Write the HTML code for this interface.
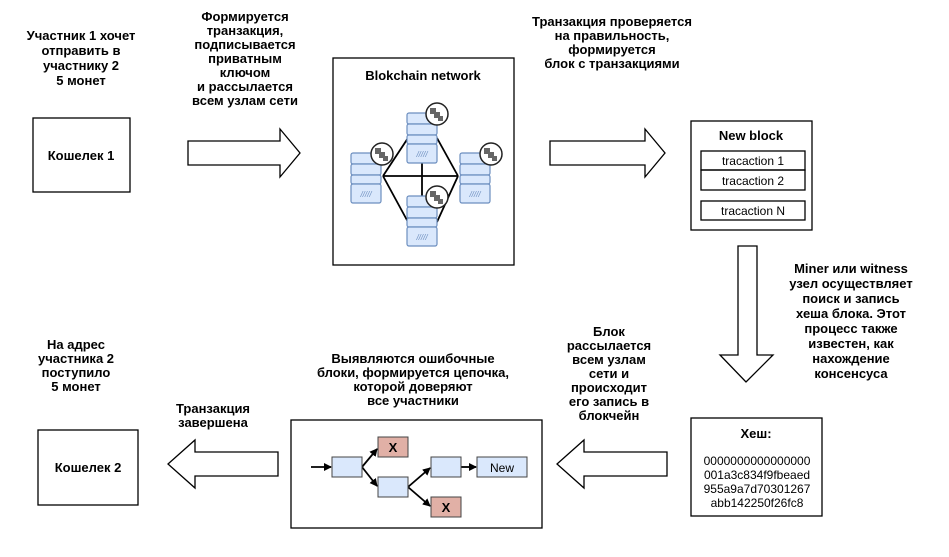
<!DOCTYPE html>
<html><head><meta charset="utf-8"><style>
body{margin:0;background:#fff}
svg{display:block}
text{font-family:"Liberation Sans",sans-serif;font-size:13px;fill:#000}
.b{font-weight:bold}
</style></head><body>
<svg width="949" height="557" viewBox="0 0 949 557" xmlns="http://www.w3.org/2000/svg">
<rect width="949" height="557" fill="#fff"/>
<defs>
<g id="srv">
<rect x="0" y="0" width="30" height="11" rx="2" fill="#dae8fc" stroke="#6c8ebf" stroke-width="1.2"/>
<rect x="0" y="11" width="30" height="11" rx="2" fill="#dae8fc" stroke="#6c8ebf" stroke-width="1.2"/>
<rect x="0" y="22" width="30" height="9" rx="2" fill="#dae8fc" stroke="#6c8ebf" stroke-width="1.2"/>
<rect x="0" y="31" width="30" height="19" rx="2" fill="#dae8fc" stroke="#6c8ebf" stroke-width="1.2"/>
<text x="15" y="44" text-anchor="middle" style="font-size:8px;fill:#6c8ebf;font-style:italic">/////</text>
</g>
<g id="coin">
<circle cx="0" cy="0" r="11" fill="#fff" stroke="#222" stroke-width="1.5"/>
<rect x="-7" y="-6" width="6" height="6" fill="#666"/><rect x="-3" y="-2" width="6" height="6" fill="#666"/><rect x="1" y="2" width="5" height="5" fill="#666"/>
</g>
<marker id="ah" markerWidth="8" markerHeight="8" refX="7" refY="4" orient="auto" markerUnits="userSpaceOnUse"><path d="M0,0 L8,4 L0,8 Z" fill="#000"/></marker>
</defs>

<g stroke="#000" stroke-width="1.3" fill="none">
<rect x="33" y="118" width="97" height="74"/>
<rect x="333" y="58" width="181" height="207"/>
<rect x="691" y="121" width="121" height="109"/>
<rect x="691" y="418" width="131" height="98"/>
<rect x="291" y="420" width="251" height="108"/>
<rect x="38" y="430" width="100" height="75"/>
<path d="M188,141 L280,141 L280,129 L300,153 L280,177 L280,165 L188,165 Z"/>
<path d="M550,141 L645,141 L645,129 L665,153 L645,177 L645,165 L550,165 Z"/>
<path d="M738,246 L757,246 L757,355 L773,355 L746,382 L720,355 L738,355 Z"/>
<path d="M667,452 L584,452 L584,440 L557,464 L584,488 L584,476 L667,476 Z"/>
<path d="M278,452 L195,452 L195,440 L168,464 L195,488 L195,476 L278,476 Z"/>
</g>

<text x="81" y="160" text-anchor="middle" class="b">Кошелек 1</text>
<text x="88" y="472" text-anchor="middle" class="b">Кошелек 2</text>
<text x="423" y="80" text-anchor="middle" class="b">Blokchain network</text>
<text x="751" y="140" text-anchor="middle" class="b">New block</text>
<g stroke="#000" stroke-width="1.3" fill="none">
<rect x="701" y="151" width="104" height="19"/><rect x="701" y="170" width="104" height="20"/><rect x="701" y="201" width="104" height="19"/>
</g>
<text x="753" y="165" text-anchor="middle" style="font-size:12px">tracaction 1</text>
<text x="753" y="185" text-anchor="middle" style="font-size:12px">tracaction 2</text>
<text x="753" y="215" text-anchor="middle" style="font-size:12px">tracaction N</text>

<g stroke="#000" stroke-width="1.8">
<line x1="383" y1="176" x2="408" y2="138"/><line x1="383" y1="176" x2="408" y2="222"/>
<line x1="458" y1="176" x2="437" y2="138"/><line x1="458" y1="176" x2="437" y2="222"/>
<line x1="383" y1="176" x2="458" y2="176"/><line x1="422" y1="160" x2="422" y2="197"/>
</g>
<use href="#srv" x="407" y="113"/>
<use href="#srv" x="351" y="153"/>
<use href="#srv" x="460" y="153"/>
<use href="#srv" x="407" y="196"/>
<use href="#coin" x="437" y="114"/>
<use href="#coin" x="382" y="154"/>
<use href="#coin" x="491" y="154"/>
<use href="#coin" x="437" y="197"/>

<g stroke="#000" stroke-width="1.8" fill="none">
<line x1="311" y1="467" x2="331" y2="467" marker-end="url(#ah)"/>
<line x1="362" y1="467" x2="377" y2="449" marker-end="url(#ah)"/>
<line x1="362" y1="467" x2="377" y2="486" marker-end="url(#ah)"/>
<line x1="408" y1="487" x2="430" y2="468" marker-end="url(#ah)"/>
<line x1="408" y1="487" x2="430" y2="506" marker-end="url(#ah)"/>
<line x1="461" y1="467" x2="476" y2="467" marker-end="url(#ah)"/>
</g>
<g stroke="#444" stroke-width="1">
<rect x="332" y="457" width="30" height="20" fill="#dae8fc"/>
<rect x="378" y="477" width="30" height="20" fill="#dae8fc"/>
<rect x="431" y="457" width="30" height="20" fill="#dae8fc"/>
<rect x="477" y="457" width="50" height="20" fill="#dae8fc"/>
<rect x="378" y="437" width="30" height="20" fill="#e1b0a6"/>
<rect x="431" y="497" width="30" height="20" fill="#e1b0a6"/>
</g>
<text x="393" y="452" text-anchor="middle" class="b">X</text>
<text x="446" y="512" text-anchor="middle" class="b">X</text>
<text x="502" y="472" text-anchor="middle" style="font-size:12px">New</text>

<text x="756" y="438" text-anchor="middle" class="b">Хеш:</text>
<g text-anchor="middle">
<text x="757" y="465" style="font-size:12px">0000000000000000</text>
<text x="757" y="479" style="font-size:12px">001a3c834f9fbeaed</text>
<text x="757" y="493" style="font-size:12px">955a9a7d70301267</text>
<text x="757" y="507" style="font-size:12px">abb142250f26fc8</text>
</g>

<g text-anchor="middle">
<text x="81" y="40" class="b">Участник 1 хочет</text>
<text x="81" y="55" class="b">отправить в</text>
<text x="81" y="70" class="b">участнику 2</text>
<text x="81" y="85" class="b">5 монет</text>

<text x="245" y="21" class="b">Формируется</text>
<text x="245" y="35" class="b">транзакция,</text>
<text x="245" y="49" class="b">подписывается</text>
<text x="245" y="63" class="b">приватным</text>
<text x="245" y="77" class="b">ключом</text>
<text x="245" y="91" class="b">и рассылается</text>
<text x="245" y="105" class="b">всем узлам сети</text>

<text x="612" y="26" class="b">Транзакция проверяется</text>
<text x="612" y="40" class="b">на правильность,</text>
<text x="612" y="54" class="b">формируется</text>
<text x="612" y="68" class="b">блок с транзакциями</text>

<text x="851" y="273" class="b">Miner или witness</text>
<text x="851" y="288" class="b">узел осуществляет</text>
<text x="851" y="303" class="b">поиск и запись</text>
<text x="851" y="318" class="b">хеша блока. Этот</text>
<text x="851" y="333" class="b">процесс также</text>
<text x="851" y="348" class="b">известен, как</text>
<text x="851" y="363" class="b">нахождение</text>
<text x="851" y="378" class="b">консенсуса</text>

<text x="609" y="336" class="b">Блок</text>
<text x="609" y="350" class="b">рассылается</text>
<text x="609" y="364" class="b">всем узлам</text>
<text x="609" y="378" class="b">сети и</text>
<text x="609" y="392" class="b">происходит</text>
<text x="609" y="406" class="b">его запись в</text>
<text x="609" y="420" class="b">блокчейн</text>

<text x="413" y="363" class="b">Выявляются ошибочные</text>
<text x="413" y="377" class="b">блоки, формируется цепочка,</text>
<text x="413" y="391" class="b">которой доверяют</text>
<text x="413" y="405" class="b">все участники</text>

<text x="213" y="413" class="b">Транзакция</text>
<text x="213" y="427" class="b">завершена</text>

<text x="76" y="349" class="b">На адрес</text>
<text x="76" y="363" class="b">участника 2</text>
<text x="76" y="377" class="b">поступило</text>
<text x="76" y="391" class="b">5 монет</text>
</g>
</svg>
</body></html>
